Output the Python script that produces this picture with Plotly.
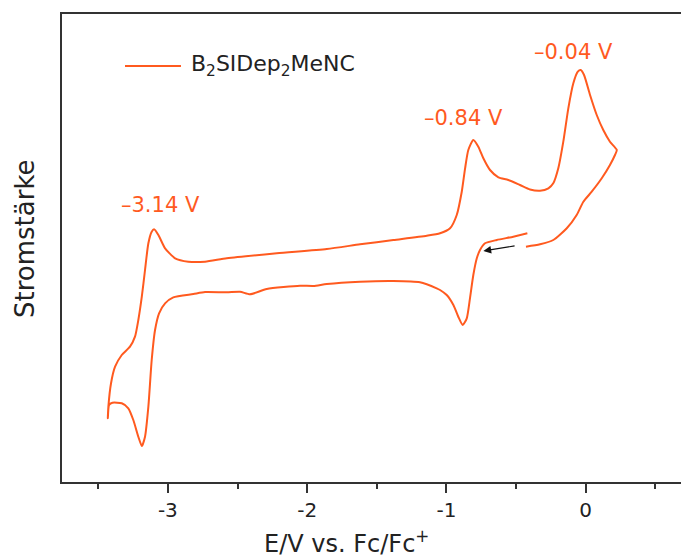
import plotly.graph_objects as go

# Cyclic voltammogram, potential in V vs. Fc/Fc+, current in arbitrary units
potential = [
    -0.419, -0.520, -0.639, -0.723, -0.759, -0.782, -0.807, -0.831, -0.854, -0.883,
    -0.915, -0.950, -0.998, -1.046, -1.070, -1.190, -1.381, -1.620, -1.859, -1.955,
    -2.051, -2.290, -2.410, -2.482, -2.577, -2.733, -2.817, -2.961, -3.020, -3.063,
    -3.092, -3.116, -3.140, -3.164, -3.187, -3.212, -3.248, -3.284, -3.331, -3.398,
    -3.422, -3.431,
    -3.427, -3.408, -3.379, -3.331, -3.272, -3.236, -3.212, -3.187, -3.164, -3.140,
    -3.116, -3.099, -3.068, -3.020, -2.948, -2.853, -2.733, -2.577, -2.218, -1.859,
    -1.620, -1.381, -1.141, -1.046, -0.974, -0.926, -0.890, -0.866, -0.843, -0.807,
    -0.771, -0.735, -0.687, -0.627, -0.556, -0.472, -0.400, -0.328, -0.268, -0.233,
    -0.197, -0.161, -0.125, -0.089, -0.057, -0.036, -0.012, 0.031, 0.079, 0.126,
    0.174, 0.223,
    0.210, 0.174, 0.115, 0.043, -0.017, -0.065, -0.136, -0.233, -0.328, -0.429,
]
current = [
    1.67, 1.33, 1.00, 0.67, 0.00, -0.83, -2.50, -4.83, -6.83, -7.50,
    -6.67, -5.50, -4.50, -4.00, -3.83, -3.23, -3.10, -3.17, -3.40, -3.60,
    -3.57, -3.90, -4.43, -4.17, -4.23, -4.20, -4.40, -4.73, -5.33, -6.33,
    -8.00, -11.00, -15.67, -18.67, -19.60, -18.67, -17.00, -15.83, -15.33, -15.27,
    -15.50, -16.83,
    -15.67, -13.33, -11.67, -10.50, -9.67, -8.67, -7.00, -4.67, -2.00, 0.67,
    1.83, 2.07, 1.50, 0.17, -0.83, -1.17, -1.17, -0.83, -0.33, 0.10,
    0.57, 1.00, 1.43, 1.67, 2.17, 3.50, 5.83, 8.17, 10.00, 11.00,
    10.33, 9.17, 8.00, 7.27, 7.00, 6.50, 6.05, 5.92, 6.17, 6.67,
    8.17, 10.83, 14.17, 16.67, 17.83, 18.00, 17.50, 15.50, 13.50, 12.00,
    10.83, 10.00,
    9.50, 8.50, 7.17, 5.83, 4.83, 3.50, 2.17, 1.00, 0.57, 0.33,
]

# Peak labels
peak_labels = ["–3.14 V", "–0.84 V", "–0.04 V"]
label_x = [-3.050, -0.874, -0.085]
label_y = [4.5, 13.2, 19.8]

# Scan direction arrow (head, tail)
arrow_head = (-0.735, -0.10)
arrow_tail = (-0.500, 0.43)

x_ticks = [-3, -2, -1, 0]
x_tick_text = ["-3", "-2", "-1", "0"]

series_name = "B<sub>2</sub>SIDep<sub>2</sub>MeNC"
x_title = "E/V vs. Fc/Fc<sup>+</sup>"
y_title = "Stromstärke"

ORANGE = "#FF5A1F"
AXIS = "#333333"
TEXT = "#222222"
FONT = "DejaVu Sans"

fig = go.Figure()
fig.add_trace(go.Scatter(
    x=potential, y=current, mode="lines", name=series_name,
    line=dict(color=ORANGE, width=2, shape="spline", smoothing=0.6),
    showlegend=False, hoverinfo="skip",
))

for txt, lx, ly in zip(peak_labels, label_x, label_y):
    fig.add_annotation(x=lx, y=ly, xref="x", yref="y", text=txt, showarrow=False,
                       font=dict(family=FONT, size=21, color=ORANGE),
                       xanchor="center", yanchor="middle")

fig.add_annotation(x=arrow_head[0], y=arrow_head[1], ax=arrow_tail[0], ay=arrow_tail[1],
                   xref="x", yref="y", axref="x", ayref="y", text="",
                   showarrow=True, arrowhead=2, arrowsize=1.3, arrowwidth=1.2,
                   arrowcolor="#111111")

# Legend entry drawn by hand: sample line plus label
fig.add_shape(type="line", xref="paper", yref="paper",
              x0=0.1018, x1=0.1922, y0=0.889, y1=0.889,
              line=dict(color=ORANGE, width=2))
fig.add_annotation(x=0.205, y=0.889, xref="paper", yref="paper", text=series_name,
                   showarrow=False, xanchor="left", yanchor="middle",
                   font=dict(family=FONT, size=22, color=TEXT))

# Axis titles
fig.add_annotation(x=0.46, y=-0.128, xref="paper", yref="paper", text=x_title,
                   showarrow=False, xanchor="center", yanchor="middle",
                   font=dict(family=FONT, size=24, color=TEXT))
fig.add_annotation(x=-0.060, y=0.521, xref="paper", yref="paper", text=y_title,
                   showarrow=False, xanchor="center", yanchor="middle", textangle=-90,
                   font=dict(family=FONT, size=26, color=TEXT))

fig.update_xaxes(
    range=[-3.760, 0.684], tickvals=x_ticks, ticktext=x_tick_text,
    ticks="outside", ticklen=9, tickwidth=1.5, tickcolor=AXIS,
    minor=dict(dtick=0.5, tick0=-3.5, ticks="outside", ticklen=5, tickwidth=1.5, tickcolor=AXIS),
    showline=True, linewidth=2, linecolor=AXIS, mirror=True,
    showgrid=False, zeroline=False,
    tickfont=dict(family=FONT, size=20, color=TEXT),
)
fig.update_yaxes(
    range=[-23.2, 23.6], showticklabels=False, ticks="",
    showline=True, linewidth=2, linecolor=AXIS, mirror=False,
    showgrid=False, zeroline=False,
)

fig.update_layout(
    width=681, height=560,
    margin=dict(l=62, r=0, t=14, b=78, autoexpand=False),
    paper_bgcolor="white", plot_bgcolor="white",
    font=dict(family=FONT),
)

fig.write_html("out.html")
